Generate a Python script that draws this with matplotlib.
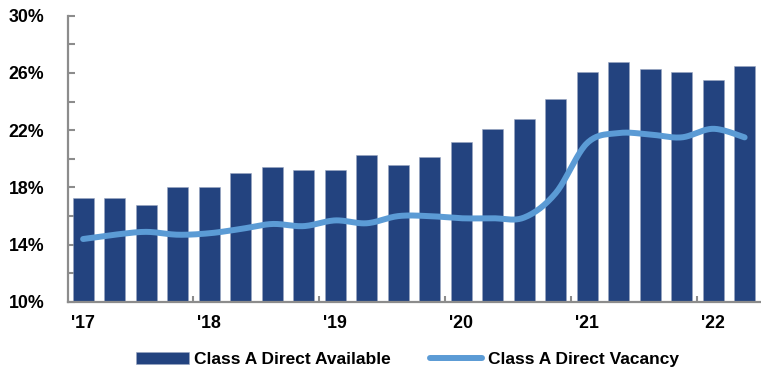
import numpy as np
import matplotlib
matplotlib.use("Agg")
import matplotlib.pyplot as plt
from matplotlib.ticker import FixedLocator, NullFormatter

plt.rcParams['font.family'] = ['Liberation Sans', 'DejaVu Sans']

# Quarterly series, 2017 Q1 through 2022 Q2
quarters = [f"{y}Q{q}" for y in range(2017, 2023) for q in range(1, 5)][:22]
direct_available = [17.3, 17.3, 16.8, 18.0, 18.0, 19.0, 19.45, 19.2, 19.2, 20.3,
                     19.6, 20.1, 21.2, 22.1, 22.8, 24.2, 26.1, 26.8, 26.3, 26.1,
                     25.5, 26.5]
direct_vacancy = [14.4, 14.7, 14.9, 14.7, 14.8, 15.1, 15.45, 15.3, 15.7, 15.5,
                  16.0, 16.0, 15.85, 15.85, 15.9, 17.6, 21.1, 21.8, 21.7, 21.5,
                  22.1, 21.5]
year_labels = ["'17", "'18", "'19", "'20", "'21", "'22"]
y_ticks = [10, 14, 18, 22, 26, 30]

BAR_COLOR = "#23437f"
LINE_COLOR = "#5b9bd5"
SPINE_COLOR = "#8c8c8c"


def smooth_curve(xs, ys, steps=24):
    """Catmull-Rom style cubic Bezier smoothing through every point."""
    xs = np.asarray(xs, float)
    ys = np.asarray(ys, float)
    n = len(xs)
    out_x, out_y = [], []
    t = np.linspace(0, 1, steps, endpoint=False)
    for i in range(n - 1):
        p0 = i - 1 if i > 0 else i
        p3 = i + 2 if i + 2 < n else i + 1
        c1x = xs[i] + (xs[i + 1] - xs[p0]) / 6
        c1y = ys[i] + (ys[i + 1] - ys[p0]) / 6
        c2x = xs[i + 1] - (xs[p3] - xs[i]) / 6
        c2y = ys[i + 1] - (ys[p3] - ys[i]) / 6
        b0 = (1 - t) ** 3
        b1 = 3 * (1 - t) ** 2 * t
        b2 = 3 * (1 - t) * t ** 2
        b3 = t ** 3
        out_x.extend(b0 * xs[i] + b1 * c1x + b2 * c2x + b3 * xs[i + 1])
        out_y.extend(b0 * ys[i] + b1 * c1y + b2 * c2y + b3 * ys[i + 1])
    out_x.append(xs[-1])
    out_y.append(ys[-1])
    return np.array(out_x), np.array(out_y)


fig = plt.figure(figsize=(7.61, 3.72), dpi=100)
ax = fig.add_axes([68 / 761, 1 - 302 / 372, 693 / 761, (302 - 15.7) / 372])

x = np.arange(len(quarters))
bars = ax.bar(x, np.array(direct_available) - 10, bottom=10, width=0.66,
              color=BAR_COLOR, edgecolor="#9aa6c0", linewidth=0.4,
              label="Class A Direct Available", zorder=2)

sx, sy = smooth_curve(x, direct_vacancy)
line, = ax.plot(sx, sy, color=LINE_COLOR, linewidth=4.3, solid_capstyle="round",
                label="Class A Direct Vacancy", zorder=3)

ax.set_xlim(-0.48, len(quarters) - 0.48)
ax.set_ylim(10, 30)

# y axis: labelled every 4%, ticks every 2%
ax.set_yticks(y_ticks)
ax.set_yticklabels([f"{v}%" for v in y_ticks], fontsize=12.8, fontweight="bold")
ax.yaxis.set_minor_locator(FixedLocator(np.arange(12, 30, 4)))
ax.yaxis.set_minor_formatter(NullFormatter())
ax.tick_params(axis="y", which="both", direction="in", length=5, width=1.5,
               color=SPINE_COLOR, pad=17)

# x axis: year labels under Q1 bars, ticks at year boundaries
year_pos = x[::4]
ax.set_xticks(year_pos)
ax.set_xticklabels(year_labels, fontsize=12.8, fontweight="bold")
ax.tick_params(axis="x", which="major", length=0, pad=9)
ax.xaxis.set_minor_locator(FixedLocator(year_pos[1:] - 0.5))
ax.tick_params(axis="x", which="minor", direction="in", length=4, width=1.5,
               color=SPINE_COLOR)

for side in ("top", "right"):
    ax.spines[side].set_visible(False)
for side in ("left", "bottom"):
    ax.spines[side].set_color(SPINE_COLOR)
    ax.spines[side].set_linewidth(1.6)

ax.legend(handles=[bars, line], loc="center", bbox_to_anchor=(0.49, -0.2),
          ncol=2, frameon=False, prop={"size": 12.5, "weight": "bold"},
          handlelength=3.0, handleheight=0.7, handletextpad=0.3,
          columnspacing=2.3)

fig.savefig("out.png", dpi=100)
